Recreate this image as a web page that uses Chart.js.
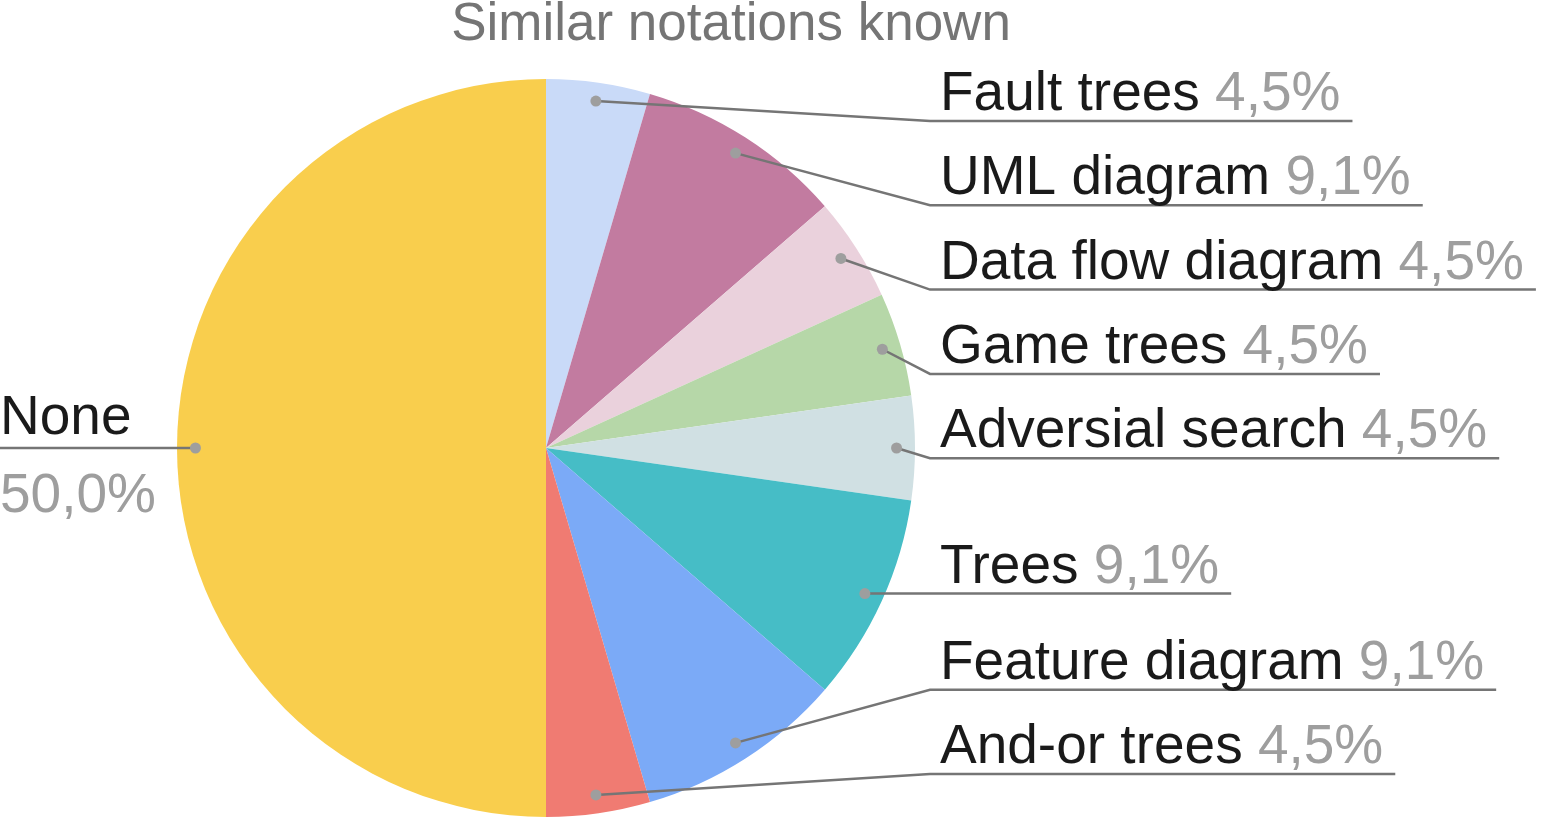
<!DOCTYPE html>
<html>
<head>
<meta charset="utf-8">
<script src="https://cdn.jsdelivr.net/npm/chart.js@4"></script>
<style>
html,body{margin:0;padding:0;background:#fff;}
#wrap{width:1546px;height:817px;position:relative;}
</style>
</head>
<body>
<div id="wrap"><canvas id="c" width="1546" height="817"></canvas></div>
<script>
const titleText = 'Similar notations known';
const categories = ['Fault trees','UML diagram','Data flow diagram','Game trees','Adversial search','Trees','Feature diagram','And-or trees','None'];
const counts = [1,2,1,1,1,2,2,1,11];
const sliceColors = ['#c9daf8','#c27ba0','#ead1dc','#b6d7a8','#d0e0e3','#46bdc6','#7baaf7','#f07b72','#f9ce4d'];

const FONT = '"Liberation Sans", Arial, sans-serif';
const total = counts.reduce((a,b)=>a+b,0);
const pct = v => (v/total*100).toFixed(1).replace('.', ',') + '%';

const labelPlugin = {
  id: 'labels',
  afterDraw(chart) {
    const ctx = chart.ctx;
    const meta = chart.getDatasetMeta(0);
    ctx.save();
    // title
    ctx.font = '53px ' + FONT;
    ctx.fillStyle = '#757575';
    ctx.textAlign = 'center';
    ctx.textBaseline = 'alphabetic';
    ctx.fillText(titleText, 731, 40);

    const items = [];
    meta.data.forEach((arc, i) => {
      const p = arc.getProps(['x','y','startAngle','endAngle','outerRadius'], true);
      const mid = (p.startAngle + p.endAngle) / 2;
      const r = p.outerRadius * 0.95;
      items.push({i, dx: p.x + Math.cos(mid)*r, dy: p.y + Math.sin(mid)*r, cx: p.x});
    });
    const right = items.filter(it => it.dx >= it.cx).sort((a,b)=>a.dy-b.dy);
    const left = items.filter(it => it.dx < it.cx);
    // resolve right-side label positions
    const minY = 121, maxY = 774, gap = 84.3;
    right.forEach(it => it.ly = Math.min(Math.max(it.dy, minY), maxY));
    for (let k = 1; k < right.length; k++) right[k].ly = Math.max(right[k].ly, right[k-1].ly + gap);
    right[right.length-1].ly = Math.min(right[right.length-1].ly, maxY);
    for (let k = right.length-2; k >= 0; k--) right[k].ly = Math.min(right[k].ly, right[k+1].ly - gap);

    const kneeX = 930, textX = 940;
    ctx.font = '55px ' + FONT;
    ctx.textAlign = 'left';
    right.forEach(it => {
      const name = categories[it.i] + ' ';
      const per = pct(counts[it.i]);
      const w1 = ctx.measureText(name).width;
      const w2 = ctx.measureText(per).width;
      const endX = Math.min(textX + w1 + w2 + 12, 1546);
      ctx.strokeStyle = '#757575';
      ctx.lineWidth = 2.5;
      ctx.beginPath();
      ctx.moveTo(it.dx, it.dy);
      ctx.lineTo(kneeX, it.ly);
      ctx.lineTo(endX, it.ly);
      ctx.stroke();
      ctx.fillStyle = '#9e9e9e';
      ctx.beginPath(); ctx.arc(it.dx, it.dy, 5.5, 0, Math.PI*2); ctx.fill();
      ctx.fillStyle = '#1a1a1a';
      ctx.fillText(name, textX, it.ly - 11);
      ctx.fillStyle = '#9e9e9e';
      ctx.fillText(per, textX + w1, it.ly - 11);
    });
    left.forEach(it => {
      ctx.strokeStyle = '#757575';
      ctx.lineWidth = 2.5;
      ctx.beginPath();
      ctx.moveTo(it.dx, it.dy);
      ctx.lineTo(0, it.dy);
      ctx.stroke();
      ctx.fillStyle = '#9e9e9e';
      ctx.beginPath(); ctx.arc(it.dx, it.dy, 5.5, 0, Math.PI*2); ctx.fill();
      ctx.fillStyle = '#1a1a1a';
      ctx.fillText(categories[it.i], 0, it.dy - 14);
      ctx.fillStyle = '#9e9e9e';
      ctx.fillText(pct(counts[it.i]), 0, it.dy + 64);
    });
    ctx.restore();
  }
};

new Chart(document.getElementById('c'), {
  type: 'pie',
  data: {
    labels: categories,
    datasets: [{
      data: counts,
      backgroundColor: sliceColors,
      borderWidth: 0
    }]
  },
  options: {
    responsive: false,
    animation: false,
    layout: { padding: { left: 177, right: 631, top: 79, bottom: 0 } },
    plugins: {
      legend: { display: false },
      tooltip: { enabled: false },
      title: { display: false }
    }
  },
  plugins: [labelPlugin]
});
</script>
</body>
</html>
